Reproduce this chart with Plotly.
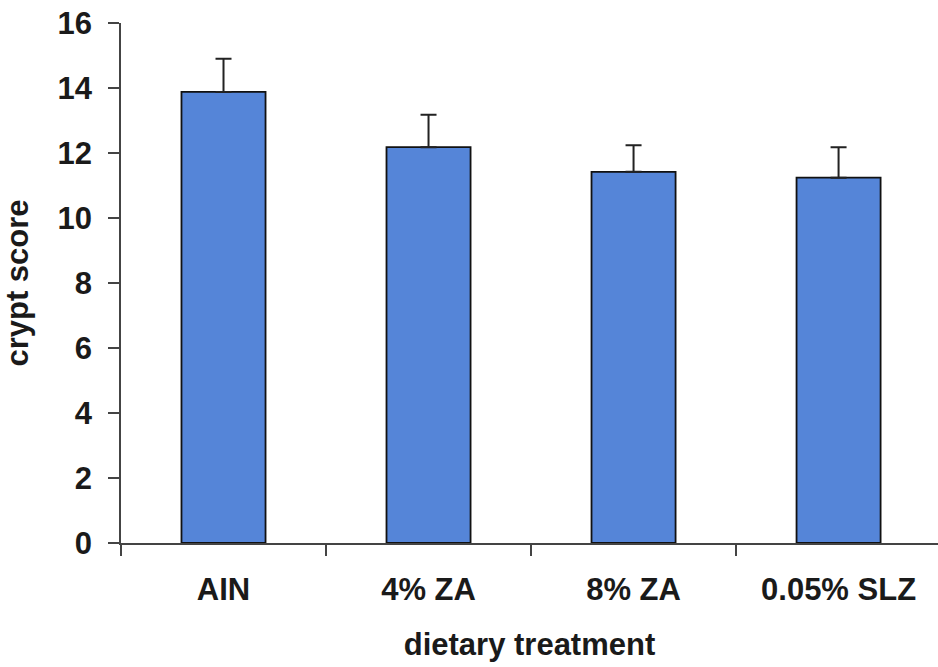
import plotly.graph_objects as go

categories = ["AIN", "4% ZA", "8% ZA", "0.05% SLZ"]
crypt_score = [13.88, 12.18, 11.42, 11.24]
error_upper = [1.02, 1.0, 0.82, 0.94]
y_ticks = [0, 2, 4, 6, 8, 10, 12, 14, 16]

font_family = "Liberation Sans, Arial, sans-serif"
text_color = "#1a1a1a"
axis_color = "#444444"

fig = go.Figure()
fig.add_trace(go.Bar(
    x=categories,
    y=crypt_score,
    width=0.41,
    marker=dict(color="#5585D8", line=dict(color="#111111", width=1.8)),
    error_y=dict(type="data", symmetric=False, array=error_upper,
                 arrayminus=[0] * len(error_upper),
                 color="#222222", thickness=2, width=8),
))

fig.update_layout(
    width=938, height=667,
    margin=dict(l=121, r=0, t=23, b=124),
    plot_bgcolor="white", paper_bgcolor="white",
    showlegend=False,
    font=dict(family=font_family, color=text_color, size=31),
)
fig.update_xaxes(
    type="category",
    range=[-0.5, 3.485],
    tickson="boundaries",
    ticks="outside", ticklen=11, tickwidth=1.5, tickcolor=axis_color,
    showline=True, linecolor=axis_color, linewidth=1.5,
    showgrid=False,
    tickfont=dict(family=font_family, size=31, color=text_color, weight="bold"),
    ticklabelstandoff=18,
    ticklabeloverflow="allow",
    title=dict(text="<b>dietary treatment</b>", standoff=27,
               font=dict(family=font_family, size=31, color=text_color)),
    automargin=False,
)
fig.update_yaxes(
    range=[0, 16],
    tickvals=y_ticks,
    ticks="outside", ticklen=11, tickwidth=1.5, tickcolor=axis_color,
    showline=True, linecolor=axis_color, linewidth=1.5,
    showgrid=False, zeroline=False,
    tickfont=dict(family=font_family, size=31, color=text_color, weight="bold"),
    ticklabelstandoff=10,
    ticklabeloverflow="allow",
    title=dict(text="<b>crypt score</b>", standoff=25,
               font=dict(family=font_family, size=31, color=text_color)),
    automargin=False,
)

fig.write_html("out.html", config={"displayModeBar": False},
               post_script="document.body.style.margin='0';")
